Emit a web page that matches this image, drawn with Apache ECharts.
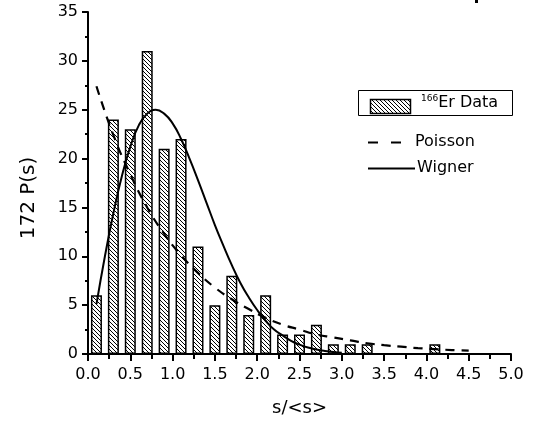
<!DOCTYPE html>
<html>
<head>
<meta charset="utf-8">
<script src="https://cdn.jsdelivr.net/npm/echarts@6/dist/echarts.min.js"></script>
<style>
html,body{margin:0;padding:0;background:#fff;}
#c{width:533px;height:421px;}
</style>
</head>
<body>
<div id="c"></div>
<script>
// Histogram bins (bin centres, s/<s>) and counts
var binCenters = [0.1, 0.3, 0.5, 0.7, 0.9, 1.1, 1.3, 1.5, 1.7, 1.9, 2.1, 2.3, 2.5, 2.7, 2.9, 3.1, 3.3, 4.1];
var binCounts  = [6, 24, 23, 31, 21, 22, 11, 5, 8, 4, 6, 2, 2, 3, 1, 1, 1, 1];

// Poisson curve (dashed)
var poissonS = [0.1, 0.3, 0.5, 0.7, 0.9, 1.1, 1.3, 1.5, 1.7, 1.9, 2.1, 2.3, 2.5, 2.7, 2.9, 3.1, 3.3, 3.5, 3.7, 3.9, 4.1, 4.3, 4.5];
var poissonY = [27.4, 22.4, 18.4, 15.0, 12.3, 10.1, 8.3, 6.8, 5.6, 4.6, 3.7, 3.0, 2.5, 2.0, 1.7, 1.4, 1.1, 0.9, 0.75, 0.6, 0.5, 0.4, 0.34];

// Wigner curve (solid)
var wignerS = [0.1, 0.2, 0.3, 0.4, 0.5, 0.6, 0.7, 0.8, 0.9, 1.0, 1.1, 1.2, 1.3, 1.4, 1.5, 1.6, 1.7, 1.8, 1.9, 2.0, 2.1, 2.2, 2.3, 2.4, 2.5, 2.6, 2.7, 2.8, 2.9, 3.0];
var wignerY = [5.1, 10.0, 14.4, 18.2, 21.2, 23.4, 24.6, 25.0, 24.6, 23.6, 22.0, 20.0, 17.8, 15.5, 13.2, 11.1, 9.1, 7.3, 5.8, 4.5, 3.4, 2.5, 1.9, 1.35, 0.96, 0.66, 0.46, 0.31, 0.2, 0.13];

// Axis ticks
var xTicks = {min: 0, max: 5, step: 0.5};
var yTicks = {min: 0, max: 35, step: 5};

function pair(xs, ys) { return xs.map(function (x, i) { return [x, ys[i]]; }); }

// hatch pattern "\\\\"
function hatch() {
  var c = document.createElement('canvas');
  c.width = 4; c.height = 4;
  var g = c.getContext('2d');
  g.fillStyle = '#fff'; g.fillRect(0, 0, 4, 4);
  g.strokeStyle = '#000'; g.lineWidth = 1;
  g.beginPath();
  g.moveTo(-1, -1); g.lineTo(5, 5);
  g.moveTo(-1, 3); g.lineTo(1, 5);
  g.moveTo(3, -1); g.lineTo(5, 1);
  g.stroke();
  return c;
}
var pat = {image: hatch(), repeat: 'repeat'};

var FONT = '"DejaVu Sans", sans-serif';
var chart = echarts.init(document.getElementById('c'), null, {renderer: 'canvas'});
chart.setOption({
  animation: false,
  backgroundColor: '#fff',
  grid: {left: 88, right: 22, top: 12, bottom: 67, containLabel: false, outerBoundsMode: 'none'},
  xAxis: {
    type: 'value', min: xTicks.min, max: xTicks.max, interval: xTicks.step,
    name: 's/<s>', nameLocation: 'middle', nameGap: 45,
    nameTextStyle: {fontFamily: FONT, fontSize: 18, color: '#000'},
    axisLine: {show: true, onZero: false, lineStyle: {color: '#000', width: 2}},
    axisTick: {show: true, inside: false, length: 7, lineStyle: {color: '#000', width: 2}},
    minorTick: {show: true, splitNumber: 2, length: 5, lineStyle: {color: '#000', width: 2}},
    splitLine: {show: false},
    axisLabel: {fontFamily: FONT, fontSize: 16, color: '#000', margin: 13,
      formatter: function (v) { return v.toFixed(1); }}
  },
  yAxis: {
    type: 'value', min: yTicks.min, max: yTicks.max, interval: yTicks.step,
    axisLine: {show: true, onZero: false, lineStyle: {color: '#000', width: 2}},
    axisTick: {show: true, inside: false, length: 6, lineStyle: {color: '#000', width: 2}},
    minorTick: {show: true, splitNumber: 2, length: 3, lineStyle: {color: '#000', width: 2}},
    splitLine: {show: false},
    axisLabel: {fontFamily: FONT, fontSize: 16, color: '#000', margin: 10}
  },
  series: [
    {
      name: '166Er Data', type: 'bar', data: pair(binCenters, binCounts),
      barWidth: 11, z: 2,
      itemStyle: {color: pat, borderColor: '#000', borderWidth: 1.5}
    },
    {
      name: 'Poisson', type: 'line', data: pair(poissonS, poissonY), smooth: true,
      showSymbol: false, z: 3,
      lineStyle: {color: '#000', width: 2.2, type: [9, 7]}
    },
    {
      name: 'Wigner', type: 'line', data: pair(wignerS, wignerY), smooth: true,
      showSymbol: false, z: 4,
      lineStyle: {color: '#000', width: 2}
    }
  ],
  graphic: [
    {type: 'text', x: 29, y: 198, rotation: Math.PI / 2,
      style: {text: '172 P(s)', font: '20px ' + FONT, fill: '#000', align: 'center', verticalAlign: 'middle', textAlign: 'center', textVerticalAlign: 'middle'}},
    {type: 'rect', shape: {x: 358.5, y: 90.5, width: 154, height: 25}, style: {fill: '#fff', stroke: '#000', lineWidth: 1}},
    {type: 'rect', shape: {x: 370.5, y: 99.5, width: 40, height: 14}, style: {fill: pat, stroke: '#000', lineWidth: 1.5}},
    {type: 'text', x: 421, y: 103, style: {
      text: '{sup|166}{b|Er Data}', verticalAlign: 'middle', textVerticalAlign: 'middle',
      rich: {sup: {fontFamily: FONT, fontSize: 9, fill: '#000', verticalAlign: 'top', padding: [0, 0, 8, 0]},
             b: {fontFamily: FONT, fontSize: 16, fill: '#000'}}}},
    {type: 'line', shape: {x1: 368, y1: 142.5, x2: 401, y2: 142.5}, style: {stroke: '#000', lineWidth: 2.2, lineDash: [10, 13]}},
    {type: 'text', x: 415, y: 142, style: {text: 'Poisson', font: '16px ' + FONT, fill: '#000', verticalAlign: 'middle', textVerticalAlign: 'middle'}},
    {type: 'line', shape: {x1: 368, y1: 168.5, x2: 415, y2: 168.5}, style: {stroke: '#000', lineWidth: 2}},
    {type: 'text', x: 417, y: 168, style: {text: 'Wigner', font: '16px ' + FONT, fill: '#000', verticalAlign: 'middle', textVerticalAlign: 'middle'}},
    {type: 'rect', shape: {x: 475, y: 0, width: 3, height: 3}, style: {fill: '#000'}}
  ]
});
</script>
</body>
</html>
